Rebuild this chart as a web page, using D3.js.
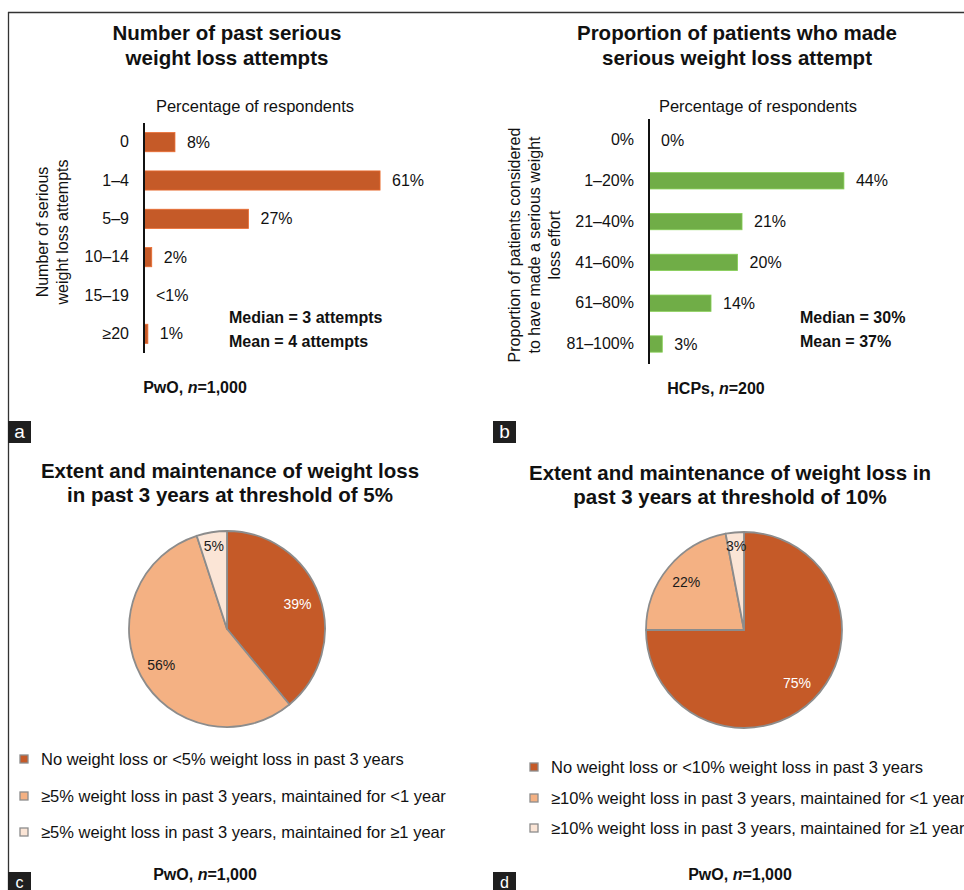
<!DOCTYPE html>
<html>
<head>
<meta charset="utf-8">
<script src="https://cdn.jsdelivr.net/npm/d3@7/dist/d3.min.js"></script>
<style>
  html, body { margin: 0; padding: 0; background: #fff; }
  svg { display: block; font-family: "Liberation Sans", Arial, Helvetica, sans-serif; }
</style>
</head>
<body>
<svg id="fig" width="964" height="890"></svg>
<script>
// ---- Panel a: number of past serious weight loss attempts (PwO) ----
const attemptCategories = ["0", "1\u20134", "5\u20139", "10\u201314", "15\u201319", "\u226520"];
const attemptValues = [8, 61, 27, 2, 0, 1];
const attemptLabels = ["8%", "61%", "27%", "2%", "<1%", "1%"];

// ---- Panel b: proportion of patients who made a serious attempt (HCPs) ----
const proportionCategories = ["0%", "1\u201320%", "21\u201340%", "41\u201360%", "61\u201380%", "81\u2013100%"];
const proportionValues = [0, 44, 21, 20, 14, 3];

// ---- Panel c: weight loss at 5% threshold ----
const threshold5Labels = [
  "No weight loss or <5% weight loss in past 3 years",
  "\u22655% weight loss in past 3 years, maintained for <1 year",
  "\u22655% weight loss in past 3 years, maintained for \u22651 year"
];
const threshold5Values = [39, 56, 5];

// ---- Panel d: weight loss at 10% threshold ----
const threshold10Labels = [
  "No weight loss or <10% weight loss in past 3 years",
  "\u226510% weight loss in past 3 years, maintained for <1 year",
  "\u226510% weight loss in past 3 years, maintained for \u22651 year"
];
const threshold10Values = [75, 22, 3];

const sliceColors = ["#C55A28", "#F4B183", "#FBE5D6"];
const barOrange = "#C55A28";
const barGreen = "#70AD47";

const svg = d3.select("#fig");

// outer frame (top and left rules)
svg.append("line").attr("x1", 8).attr("x2", 964).attr("y1", 12.5).attr("y2", 12.5)
  .attr("stroke", "#333").attr("stroke-width", 1.3);
svg.append("line").attr("x1", 8.5).attr("x2", 8.5).attr("y1", 12).attr("y2", 890)
  .attr("stroke", "#333").attr("stroke-width", 1.3);

function textLines(g, lines, x, y0, dy, opts) {
  lines.forEach((t, i) => {
    g.append("text").attr("x", x).attr("y", y0 + i * dy)
      .attr("text-anchor", opts.anchor || "middle")
      .attr("font-size", opts.size)
      .attr("font-weight", opts.weight || "normal")
      .attr("fill", opts.fill || "#111")
      .text(t);
  });
}

function panelTag(letter, x, y, h, size, base) {
  svg.append("rect").attr("x", x).attr("y", y).attr("width", 23).attr("height", h).attr("fill", "#1f1f1f");
  svg.append("text").attr("x", x + 11.5).attr("y", y + base).attr("text-anchor", "middle")
    .attr("font-size", size).attr("fill", "#fff").text(letter);
}

function sampleNote(x, y, prefix, n) {
  const t = svg.append("text").attr("x", x).attr("y", y).attr("text-anchor", "middle")
    .attr("font-size", 16).attr("font-weight", "bold").attr("fill", "#111");
  t.append("tspan").text(prefix + ", ");
  t.append("tspan").attr("font-style", "italic").text("n");
  t.append("tspan").text("=" + n);
}

// ---------- horizontal bar panel ----------
function barPanel(cfg) {
  const g = svg.append("g");
  textLines(g, cfg.title, cfg.titleX, 40, 25, { size: 20.5, weight: "bold" });
  g.append("text").attr("x", cfg.subX).attr("y", 112).attr("text-anchor", "middle")
    .attr("font-size", 16.5).attr("fill", "#111").text("Percentage of respondents");

  const x = d3.scaleLinear().domain([0, 100]).range([cfg.x0, cfg.x0 + cfg.pxPerPct * 100]);
  const y = d3.scaleBand().domain(cfg.categories).range(cfg.yRange).paddingInner(cfg.pad).paddingOuter(cfg.pad / 2);

  g.selectAll("rect.bar").data(cfg.values).enter().append("rect")
    .attr("class", "bar")
    .attr("x", x(0))
    .attr("y", (d, i) => y(cfg.categories[i]))
    .attr("width", d => x(d) - x(0))
    .attr("height", y.bandwidth())
    .attr("fill", cfg.color)
    .attr("stroke", d3.color(cfg.color).brighter(0.5))
    .attr("stroke-width", d => d > 0 ? 0.8 : 0);

  g.selectAll("text.val").data(cfg.values).enter().append("text")
    .attr("class", "val")
    .attr("x", d => x(d) + 12)
    .attr("y", (d, i) => y(cfg.categories[i]) + y.bandwidth() / 2)
    .attr("dy", "0.35em")
    .attr("font-size", 16).attr("fill", "#111")
    .text((d, i) => cfg.labels[i]);

  const axis = d3.axisLeft(y).tickSize(0).tickPadding(cfg.tickPad);
  const ag = g.append("g").attr("transform", `translate(${cfg.x0},0)`).call(axis);
  ag.select(".domain").attr("stroke", "#111").attr("stroke-width", 2)
    .attr("d", `M0,${cfg.axisY[0]}V${cfg.axisY[1]}`);
  ag.selectAll(".tick text").attr("font-size", 16).attr("fill", "#111")
    .attr("font-family", "Liberation Sans, Arial, sans-serif");

  // rotated axis title
  const at = g.append("g").attr("transform", `translate(${cfg.yTitleX},${cfg.yTitleY}) rotate(-90)`);
  cfg.yTitle.forEach((t, i) => {
    at.append("text").attr("x", 0).attr("y", i * 20).attr("text-anchor", "middle")
      .attr("font-size", 16).attr("fill", "#111").text(t);
  });

  textLines(g, cfg.stats, cfg.statsX, 323, 24, { size: 16, weight: "bold", anchor: "start" });
}

barPanel({
  title: ["Number of past serious", "weight loss attempts"], titleX: 227, subX: 255,
  categories: attemptCategories, values: attemptValues, labels: attemptLabels,
  x0: 144, pxPerPct: 3.87, yRange: [123, 353], pad: 0.5, tickPad: 15,
  axisY: [123, 353], color: barOrange,
  yTitle: ["Number of serious", "weight loss attempts"], yTitleX: 48, yTitleY: 232,
  stats: ["Median = 3 attempts", "Mean = 4 attempts"], statsX: 229
});

barPanel({
  title: ["Proportion of patients who made", "serious weight loss attempt"], titleX: 737, subX: 758,
  categories: proportionCategories, values: proportionValues,
  labels: proportionValues.map(v => v + "%"),
  x0: 649, pxPerPct: 4.43, yRange: [119.6, 364.4], pad: 0.6, tickPad: 15,
  axisY: [119, 364], color: barGreen,
  yTitle: ["Proportion of patients considered", "to have made a serious weight", "loss effort"],
  yTitleX: 520, yTitleY: 245,
  stats: ["Median = 30%", "Mean = 37%"], statsX: 800
});

sampleNote(195, 393, "PwO", "1,000");
sampleNote(716, 394, "HCPs", "200");
panelTag("a", 8, 421, 22, 19, 17);
panelTag("b", 493, 421, 22, 19, 17);

// ---------- pie panel ----------
function piePanel(cfg) {
  const g = svg.append("g");
  textLines(g, cfg.title, cfg.titleX, cfg.titleY, 24, { size: 20.5, weight: "bold" });

  const pie = d3.pie().sort(null).value(d => d);
  const arcs = pie(cfg.values);
  const r = 98;
  const arc = d3.arc().innerRadius(0).outerRadius(r);
  const pg = g.append("g").attr("transform", `translate(${cfg.cx},${cfg.cy})`);
  pg.selectAll("path").data(arcs).enter().append("path")
    .attr("d", arc)
    .attr("fill", (d, i) => sliceColors[i])
    .attr("stroke", "#8c8c8c").attr("stroke-width", 1.8).attr("stroke-linejoin", "round");

  pg.selectAll("text").data(arcs).enter().append("text")
    .attr("transform", d => {
      const lr = d.data < 6 ? 84 : 75;
      const a = (d.startAngle + d.endAngle) / 2;
      return `translate(${lr * Math.sin(a)},${-lr * Math.cos(a)})`;
    })
    .attr("text-anchor", "middle").attr("dy", "0.35em")
    .attr("font-size", 14)
    .attr("fill", (d, i) => i === 0 ? "#fff" : "#1a1a1a")
    .text(d => d.data + "%");

  const lg = g.append("g");
  cfg.labels.forEach((t, i) => {
    const yy = cfg.legendY[i];
    lg.append("rect").attr("x", cfg.legendX).attr("y", yy - 4).attr("width", 8).attr("height", 8)
      .attr("fill", sliceColors[i]).attr("stroke", "#8c8c8c").attr("stroke-width", 1.3);
    lg.append("text").attr("x", cfg.legendX + 21).attr("y", yy).attr("dy", "0.35em")
      .attr("font-size", 16.5).attr("fill", "#111").text(t);
  });
}

piePanel({
  title: ["Extent and maintenance of weight loss", "in past 3 years at threshold of 5%"],
  titleX: 230, titleY: 478, cx: 227, cy: 629,
  values: threshold5Values, labels: threshold5Labels,
  legendX: 20, legendY: [759, 796, 832]
});

piePanel({
  title: ["Extent and maintenance of weight loss in", "past 3 years at threshold of 10%"],
  titleX: 730, titleY: 480, cx: 744, cy: 630,
  values: threshold10Values, labels: threshold10Labels,
  legendX: 530, legendY: [767, 798, 828]
});

sampleNote(205, 880, "PwO", "1,000");
sampleNote(740, 880, "PwO", "1,000");
panelTag("c", 8, 872, 18, 16, 16);
panelTag("d", 493, 872, 18, 16, 16);
</script>
</body>
</html>
